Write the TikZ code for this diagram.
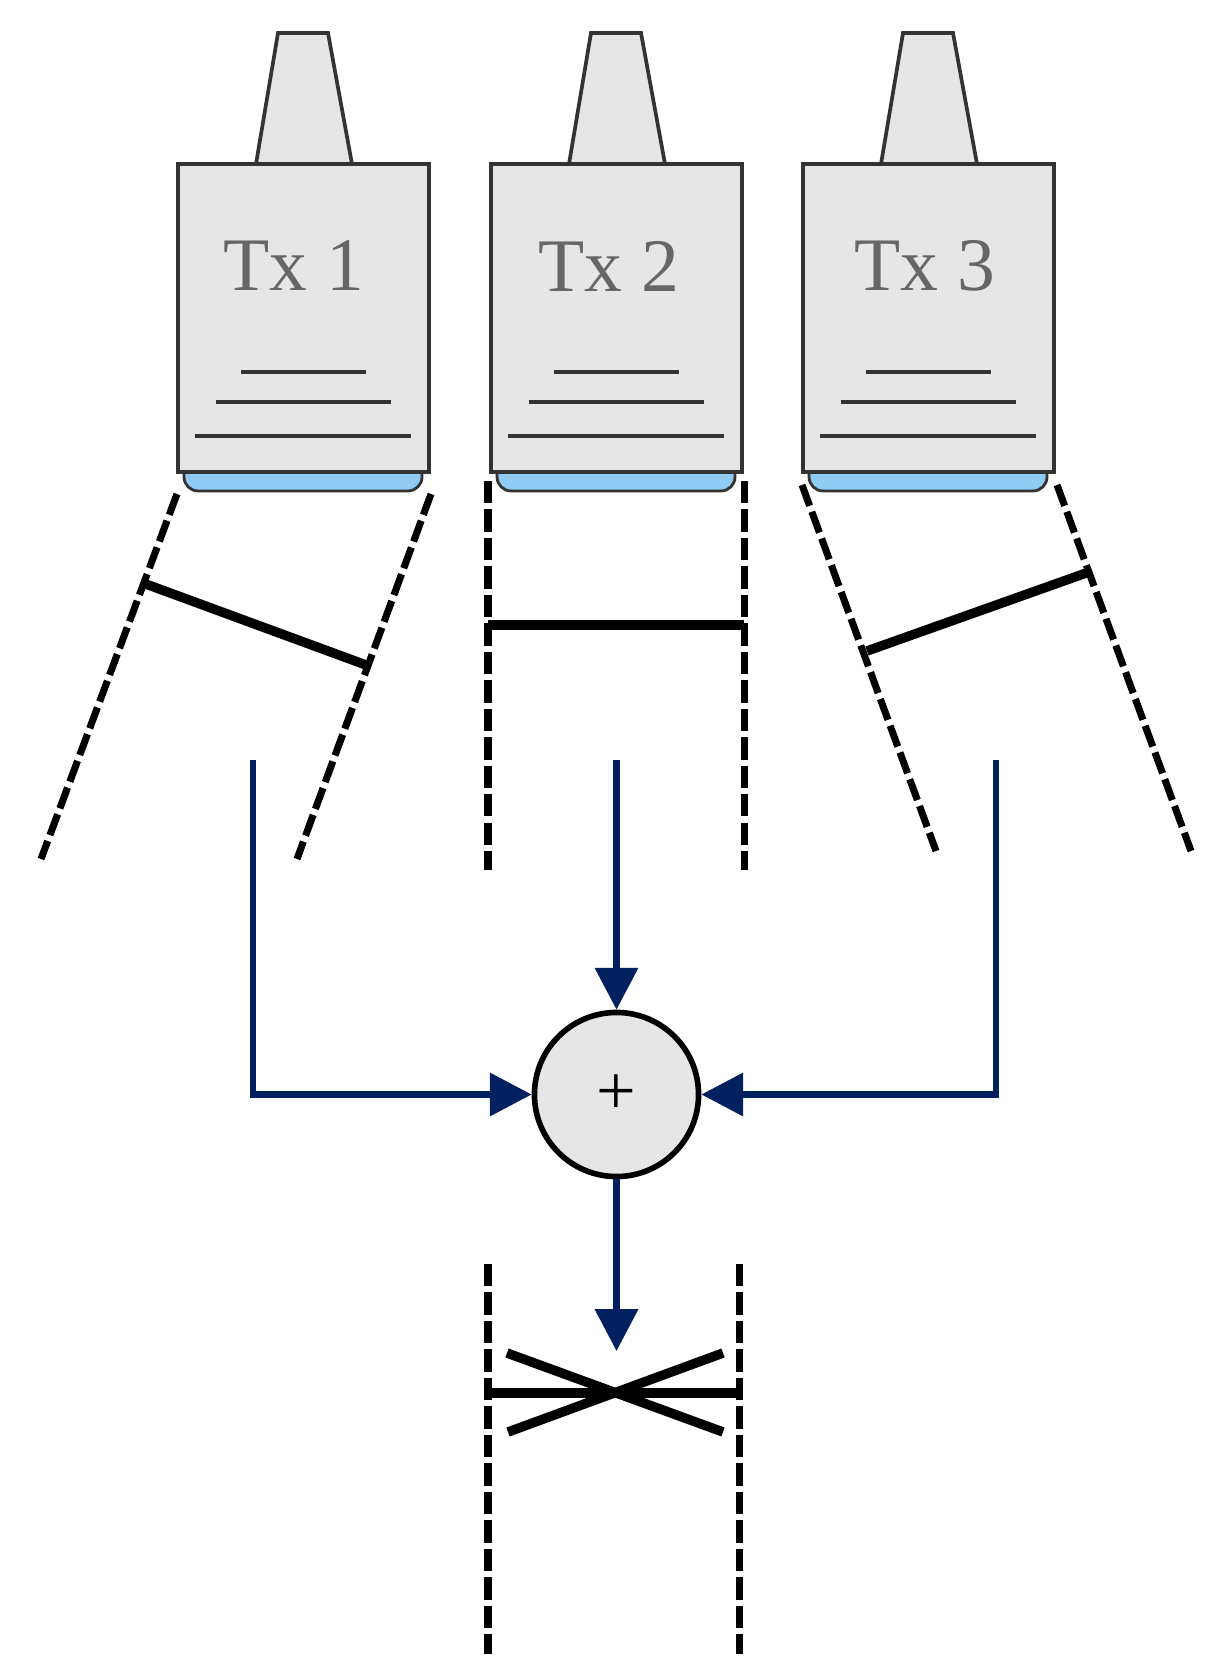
\documentclass[tikz,border=0pt]{standalone}
\usepackage{fontspec}
\setmainfont{Liberation Serif}
\usetikzlibrary{arrows.meta}
\definecolor{bodygray}{HTML}{E6E6E6}
\definecolor{edgegray}{HTML}{333333}
\definecolor{lensblue}{HTML}{8FCBF5}
\definecolor{signalblue}{HTML}{002060}
\begin{document}
\begin{tikzpicture}[x=0.01cm, y=-0.01cm]
	\tikzstyle{txbox}  = [rectangle, minimum width=2.51cm, minimum height=3.08cm, inner sep=0pt, draw=edgegray, fill=bodygray, line width=1.05pt]
	\tikzstyle{txname} = [inner sep=0pt, text=black!60, font=\fontsize{21.5}{24}\selectfont]
	\tikzstyle{sumnode} = [circle, minimum size=1.64cm, inner sep=0pt, draw=black, fill=bodygray, line width=1.6pt, font=\fontsize{20}{24}\selectfont]
	\tikzstyle{beam}   = [black, line width=2pt, dash pattern=on 6.3pt off 1.8pt]
	\tikzstyle{bar}    = [black, line width=2.7pt]
	\tikzstyle{signal} = [signalblue, line width=1.8pt, -{Triangle[length=11.9pt, width=12pt]}]

	\useasboundingbox (0, 0) rectangle (1230, 1680);

	\foreach \n/\dx/\tx in {1/0/294, 2/313/609, 3/625/925} {
		\draw[edgegray, fill=bodygray, line width=1.05pt] (256+\dx, 164) -- (278+\dx, 33) -- (328+\dx, 33) -- (352+\dx, 164);
		\draw[edgegray, fill=lensblue, line width=0.8pt, rounded corners=4pt] (184+\dx, 465) -- (184+\dx, 491) -- (422+\dx, 491) -- (422+\dx, 465);
		\node[txbox] (tx\n) at (303.5+\dx, 318) {};
		\node[txname] (name\n) at (\tx, 266) {Tx \n};
		\foreach \xa/\xb/\y in {241/366/372, 216/391/402, 195/411/436}
			\draw[edgegray, line width=1.05pt] (\xa+\dx, \y) -- (\xb+\dx, \y);
	}

	\foreach \xa/\ya/\xb/\yb in {177/494/41/859, 431/494/297/859, 488/481/488/870, 744/481/744/870, 802/485/936/851, 1057/485/1191/851, 488/1264/488/1654, 739/1264/739/1654}
		\draw[beam] (\xa, \ya) -- (\xb, \yb);

	\foreach \xa/\ya/\xb/\yb in {143/583/366/665, 488/625/744/625, 867/651/1089/572, 488/1393/740/1393, 507/1353/723/1432, 508/1432/723/1353}
		\draw[bar] (\xa, \ya) -- (\xb, \yb);

	\node[sumnode] (sum) at (616.5, 1094.5) {+};
	\coordinate (in1) at (253, 760);
	\coordinate (in2) at (616.5, 760);
	\coordinate (in3) at (996, 760);
	\coordinate (out) at (616.5, 1351);

	\draw[signal] (in1) |- (sum);
	\draw[signal] (in2) -- (sum);
	\draw[signal] (in3) |- (sum);
	\draw[signal] (sum) -- (out);
\end{tikzpicture}
\end{document}
